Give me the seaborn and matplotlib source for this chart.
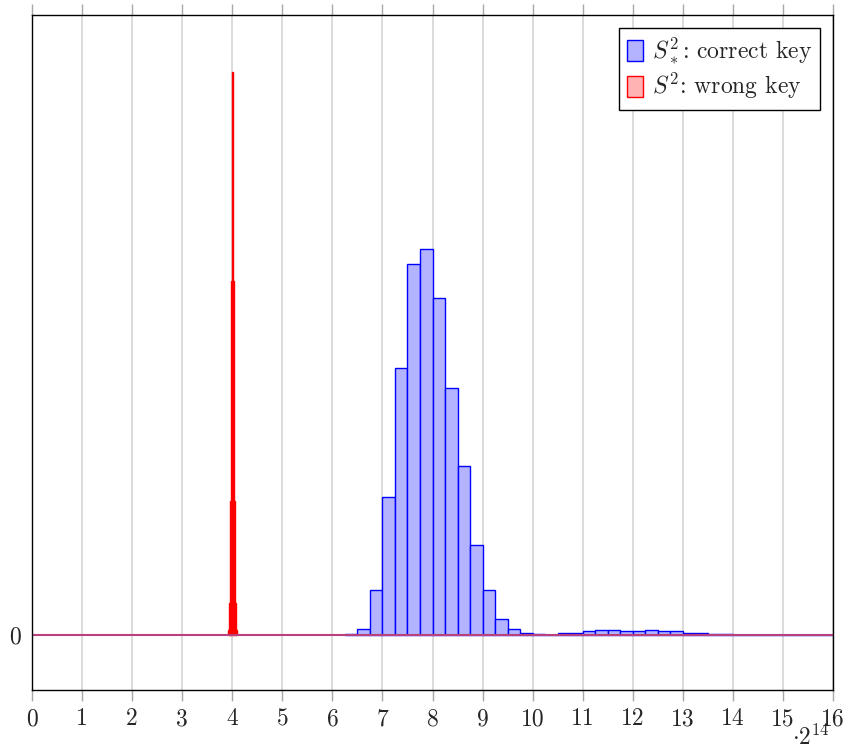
import numpy as np
import pandas as pd
import matplotlib
matplotlib.use("Agg")
import matplotlib.pyplot as plt
import seaborn as sns

# ---- data (arbitrary units) ----
blue_bin_width = 0.25
blue_bin_left = [6.25, 6.5, 6.75, 7.0, 7.25, 7.5, 7.75, 8.0, 8.25, 8.5, 8.75,
                 9.0, 9.25, 9.5, 9.75, 10.0, 10.25, 10.5, 10.75, 11.0, 11.25,
                 11.5, 11.75, 12.0, 12.25, 12.5, 12.75, 13.0, 13.25, 13.5,
                 13.75, 14.0, 14.25, 14.5, 14.75, 15.0, 15.25, 15.5, 15.75]
blue_heights = [0.7, 6, 45, 138, 267, 371, 386, 337, 247, 169, 90,
                45, 16.5, 6.2, 2.3, 1.2, 0.4, 2, 2.3, 4, 5,
                5, 4.3, 4, 5, 4.3, 4, 2.3, 1.7, 1.3,
                0.7, 0.3, 0.3, 0, 0, 0, 0, 0, 0.3]

red_bin_width = 0.02
red_bin_left = [3.91, 3.93, 3.95, 3.97, 3.99, 4.01, 4.03, 4.05, 4.07]
red_heights = [5, 32, 134, 354, 563, 354, 134, 32, 5]

x_ticks = list(range(0, 17))
x_tick_labels = [str(t) for t in x_ticks]
y_ticks = [0]
y_tick_labels = ["0"]
label_blue = r"$S_*^2$: correct key"
label_red = r"$S^2$: wrong key"
scale_label = r"$\cdot 2^{14}$"

# ---- style ----
sns.set_style("white")
plt.rcParams["font.family"] = ["cmr10", "DejaVu Serif"]
plt.rcParams["mathtext.fontset"] = "cm"
plt.rcParams["axes.unicode_minus"] = False
plt.rcParams["axes.formatter.use_mathtext"] = True

FS = 17

fig = plt.figure(figsize=(8.49, 7.51), dpi=100)
W, H = 849, 751
ax = fig.add_axes([32 / W, 1 - 690 / H, (833 - 32) / W, (690 - 15) / H])

blue_df = pd.DataFrame({
    "x": [l + blue_bin_width / 2 for l in blue_bin_left],
    "w": blue_heights,
})
blue_edges = blue_bin_left + [blue_bin_left[-1] + blue_bin_width]
red_df = pd.DataFrame({
    "x": [l + red_bin_width / 2 for l in red_bin_left],
    "w": red_heights,
})
red_edges = red_bin_left + [red_bin_left[-1] + red_bin_width]

sns.histplot(data=blue_df, x="x", weights="w", bins=blue_edges, ax=ax,
             color="#b3b3ff", edgecolor="blue", alpha=1, linewidth=1.0,
             label=label_blue, zorder=2)
sns.histplot(data=red_df, x="x", weights="w", bins=red_edges, ax=ax,
             color="#ffb3b3", edgecolor="red", alpha=1, linewidth=1.0,
             label=label_red, zorder=3)

ax.axhline(0, color="#b8407c", lw=1.5, zorder=4)

ax.set_xlim(0, 16)
ax.set_ylim(-55, 620)
ax.set_xlabel("")
ax.set_ylabel("")

ax.set_xticks(x_ticks)
ax.set_xticklabels(x_tick_labels, fontsize=FS)
ax.set_yticks(y_ticks)
ax.set_yticklabels(y_tick_labels, fontsize=FS)
ax.tick_params(axis="x", which="both", direction="out", length=8, width=1.0,
               color="#a8a8a8", top=True, bottom=True, labeltop=False,
               labelbottom=True, pad=5)
ax.tick_params(axis="y", which="both", length=0, pad=8)

ax.xaxis.grid(True, color="#d4d4d4", lw=1.2)
ax.yaxis.grid(False)
ax.set_axisbelow(True)

for s in ax.spines.values():
    s.set_color("black")
    s.set_linewidth(1.0)
    s.set_zorder(5)

leg = ax.legend(loc="upper right", frameon=True, fancybox=False, framealpha=1,
                edgecolor="black", fontsize=FS, handlelength=0.7,
                handleheight=1.0, handletextpad=0.35, borderaxespad=0.55,
                borderpad=0.35, labelspacing=0.2)
leg.get_frame().set_linewidth(1.0)

fig.text(830 / W, 1 - 750 / H, scale_label, ha="right", va="bottom",
         fontsize=FS)

fig.savefig("out.png", dpi=100)
